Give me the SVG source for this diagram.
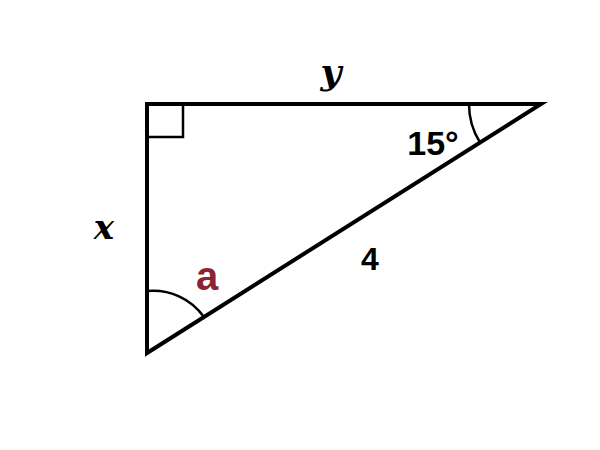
<svg xmlns="http://www.w3.org/2000/svg" width="600" height="450" viewBox="0 0 600 450">
<style>
.ln{fill:none;stroke:#000;stroke-width:4;stroke-linejoin:miter}
.th{fill:none;stroke:#000;stroke-width:2.5}
.lb{font-family:"DejaVu Serif",serif;font-weight:bold;fill:#000}
.sn{font-family:"Liberation Sans",sans-serif;font-weight:bold;fill:#000}
</style>
<rect width="600" height="450" fill="#fff"/>
<g id="triangle">
<polygon class="ln" points="147,104 541,104 147,353"/>
<polyline class="th" points="147,137 183,137 183,104"/>
<path class="th" d="M469,104 A72,72 0 0 0 480,142.5"/>
<path class="th" d="M147,291 A62,62 0 0 1 204,317"/>
</g>
<g id="labels">
<text class="lb" x="331" y="84" font-size="36" font-style="italic" text-anchor="middle">y</text>
<text class="lb" x="104" y="239" font-size="34" font-style="italic" text-anchor="middle">x</text>
<text class="sn" x="433" y="155" font-size="34" text-anchor="middle" style="font-weight:600">15°</text>
<text class="sn" x="370" y="270" font-size="32" text-anchor="middle">4</text>
<text x="207" y="290" font-size="40" font-weight="bold" font-family="'Liberation Sans',sans-serif" fill="#8b2332" text-anchor="middle">a</text>
</g>
</svg>
